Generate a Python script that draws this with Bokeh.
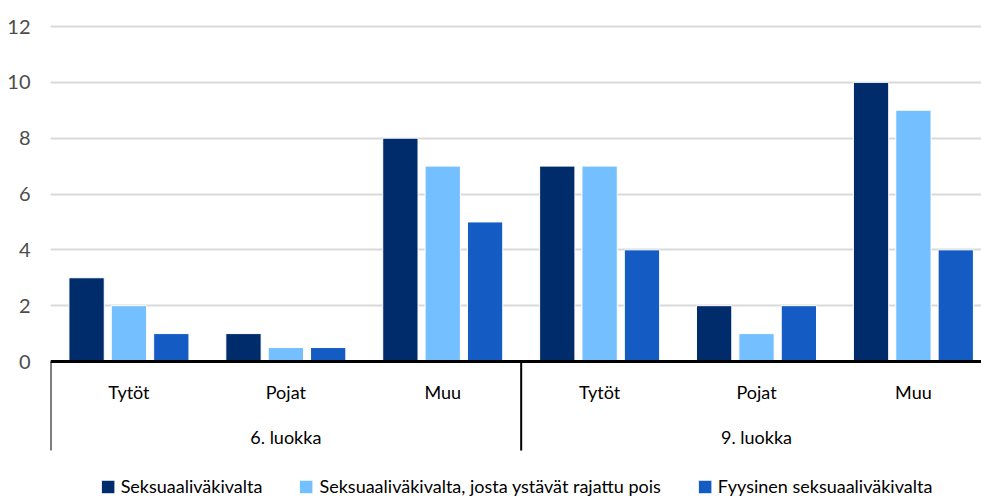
from bokeh.plotting import figure
from bokeh.models import Range1d, FixedTicker, Legend, LegendItem, ColumnDataSource
from bokeh.core.properties import value
from bokeh.embed import file_html
from bokeh.resources import INLINE

# ---- data ----
subgroups = ["Tytöt", "Pojat", "Muu", "Tytöt", "Pojat", "Muu"]
groups = ["6. luokka", "9. luokka"]
series_names = ["Seksuaaliväkivalta",
                "Seksuaaliväkivalta, josta ystävät rajattu pois",
                "Fyysinen seksuaaliväkivalta"]
seksuaalivakivalta = [3, 1, 8, 7, 2, 10]
ystavat_rajattu = [2, 0.5, 7, 7, 1, 9]
fyysinen = [1, 0.5, 5, 4, 2, 4]
y_ticks = [0, 2, 4, 6, 8, 10, 12]

colors = ["#002C6C", "#74BFFF", "#145BC3"]
FONT = "Lato"
FS = "18px"
X_END = 5.934

p = figure(width=981, height=499, output_backend="svg", toolbar_location=None,
           x_range=Range1d(0, X_END), y_range=Range1d(-4.943, 12.287),
           min_border_left=50, min_border_right=0, min_border_top=18, min_border_bottom=0)
p.outline_line_color = None
p.xaxis.visible = False
p.xgrid.visible = False
p.yaxis.ticker = FixedTicker(ticks=y_ticks)
p.yaxis.axis_line_color = None
p.yaxis.major_tick_line_color = None
p.yaxis.minor_tick_line_color = None
p.yaxis.major_label_standoff = 14
p.yaxis.major_label_text_font = FONT
p.yaxis.major_label_text_font_size = "20px"
p.yaxis.major_label_text_color = "#4d4d4d"
p.ygrid.ticker = FixedTicker(ticks=y_ticks)
p.ygrid.grid_line_color = "#d9d9d9"
p.ygrid.grid_line_width = 2

centers = [i + 0.5 for i in range(len(subgroups))]
offsets = [-0.27, 0.0, 0.27]
renderers = []
for vals, off, col in zip([seksuaalivakivalta, ystavat_rajattu, fyysinen], offsets, colors):
    src = ColumnDataSource(dict(x=[c + off for c in centers], top=vals))
    r = p.vbar(x="x", top="top", bottom=0, width=0.225, source=src,
               fill_color=col, line_color="white", line_width=1)
    renderers.append(r)

# baseline
p.segment(x0=[0], y0=[0], x1=[X_END], y1=[0], line_color="black", line_width=3)
# group separators
p.segment(x0=[0, 3], y0=[0, 0], x1=[0, 3], y1=[-3.19, -3.19], line_color="black", line_width=2)

# category labels
p.text(x=centers, y=[-1.1] * 6, text=subgroups, text_align="center", text_baseline="middle",
       text_font=value(FONT), text_font_size=FS, text_color="black")
p.text(x=[1.5, 4.5], y=[-2.72, -2.72], text=groups, text_align="center", text_baseline="middle",
       text_font=value(FONT), text_font_size=FS, text_color="black")

legend = Legend(items=[LegendItem(label=n, renderers=[r]) for n, r in zip(series_names, renderers)],
                orientation="horizontal", location="bottom_center",
                glyph_width=17, glyph_height=17, label_standoff=5, spacing=35,
                label_text_font=FONT, label_text_font_size=FS, label_text_color="black",
                background_fill_alpha=0, border_line_alpha=0, margin=0, padding=2)
p.add_layout(legend)

open("out.html", "w").write(file_html(p, INLINE))
